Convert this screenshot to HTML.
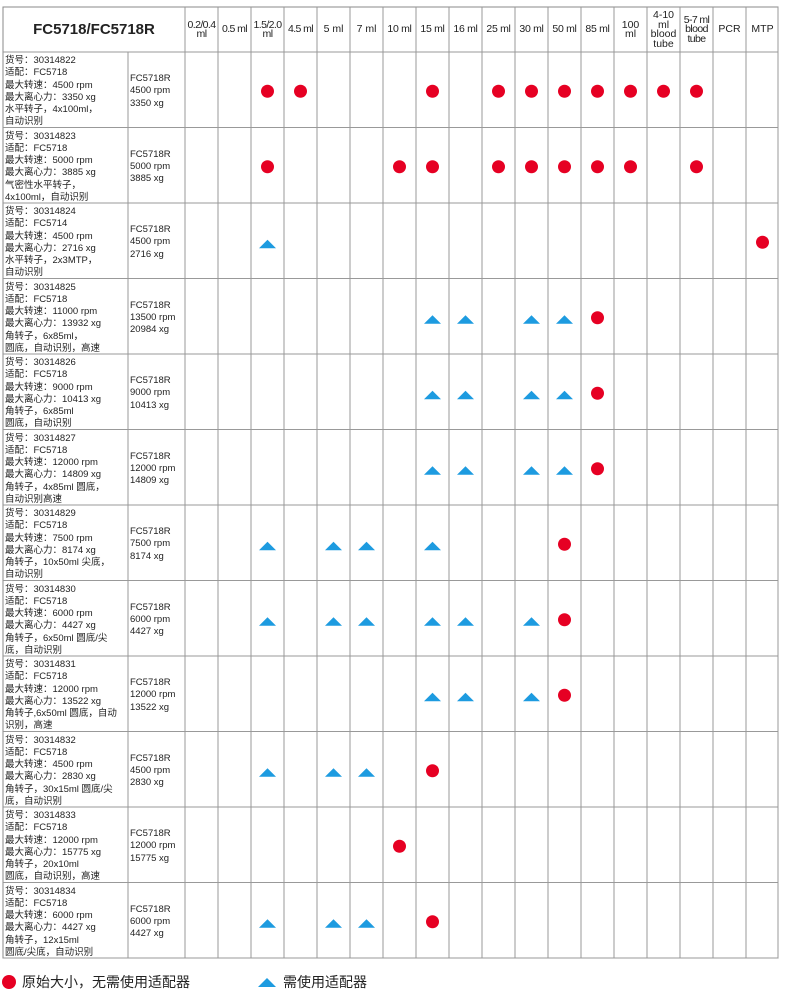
<!DOCTYPE html>
<html><head><meta charset="utf-8"><style>
body{margin:0;background:#fff;width:790px;height:1000px;position:relative;font-family:"Liberation Sans","Noto Sans CJK SC",sans-serif;color:#222;overflow:hidden}
.c{position:absolute;font-size:9.5px;line-height:12.3px;white-space:nowrap}
.h{position:absolute;font-size:10.5px;line-height:9.5px;text-align:center;width:33px;white-space:nowrap}
</style></head><body>
<svg width="790" height="1000" style="position:absolute;left:0;top:0" id="s"></svg>
<div style="position:absolute;left:3px;top:21px;width:182px;text-align:center;font-weight:bold;font-size:15px;">FC5718/FC5718R</div>
<div id="d"></div>
<div style="position:absolute;left:2px;top:975px;width:14px;height:14px;border-radius:50%;background:#e60023"></div>
<div style="position:absolute;left:22px;top:972px;font-size:14px;">原始大小，无需使用适配器</div>
<svg style="position:absolute;left:258px;top:977px" width="18" height="10"><polygon points="0,10 9,1 18,10" fill="#1d9be0"/></svg>
<div style="position:absolute;left:283px;top:972px;font-size:14px;">需使用适配器</div>
<script>
var s=document.getElementById('s'),d=document.getElementById('d'),h='';
var hb=52,rh=75.5;
var cols=[];for(var i=0;i<=18;i++)cols.push(185+i*33);cols[18]=778;
h+='<rect x="3" y="7" width="775" height="951" fill="none" stroke="#888" stroke-width="1"/>';
h+='<line x1="128" y1="52" x2="128" y2="958" stroke="#999"/>';
cols.forEach(function(x){h+='<line x1="'+x+'" y1="7" x2="'+x+'" y2="958" stroke="#999"/>'});
for(var r=0;r<=12;r++){var y=hb+r*rh;h+='<line x1="3" y1="'+y+'" x2="778" y2="'+y+'" stroke="#999"/>'}
var heads=[["0.2/0.4","ml"],["0.5 ml"],["1.5/2.0","ml"],["4.5 ml"],["5 ml"],["7 ml"],["10 ml"],["15 ml"],["16 ml"],["25 ml"],["30 ml"],["50 ml"],["85 ml"],["100","ml"],["4-10","ml","blood","tube"],["5-7 ml","blood","tube"],["PCR"],["MTP"]];
var dh='';
heads.forEach(function(a,i){var n=a.length;var t=30-n*4.75;var ls=(a[0].length>=6?'letter-spacing:-0.6px;':(a[0].length>=5?'letter-spacing:-0.3px;':''));dh+='<div class="h" style="left:'+cols[i]+'px;top:'+t+'px;'+ls+'">'+a.join('<br>')+'</div>'});
var rows=[
[["货号：30314822","适配：FC5718","最大转速：4500 rpm","最大离心力：3350 xg","水平转子，4x100ml，","自动识别"],["FC5718R","4500 rpm","3350 xg"],[2,3,7,9,10,11,12,13,14,15],[]],
[["货号：30314823","适配：FC5718","最大转速：5000 rpm","最大离心力：3885 xg","气密性水平转子，","4x100ml，自动识别"],["FC5718R","5000 rpm","3885 xg"],[2,6,7,9,10,11,12,13,15],[]],
[["货号：30314824","适配：FC5714","最大转速：4500 rpm","最大离心力：2716 xg","水平转子，2x3MTP，","自动识别"],["FC5718R","4500 rpm","2716 xg"],[17],[2]],
[["货号：30314825","适配：FC5718","最大转速：11000 rpm","最大离心力：13932 xg","角转子，6x85ml，","圆底，自动识别，高速"],["FC5718R","13500 rpm","20984 xg"],[12],[7,8,10,11]],
[["货号：30314826","适配：FC5718","最大转速：9000 rpm","最大离心力：10413 xg","角转子，6x85ml","圆底，自动识别"],["FC5718R","9000 rpm","10413 xg"],[12],[7,8,10,11]],
[["货号：30314827","适配：FC5718","最大转速：12000 rpm","最大离心力：14809 xg","角转子，4x85ml 圆底，","自动识别高速"],["FC5718R","12000 rpm","14809 xg"],[12],[7,8,10,11]],
[["货号：30314829","适配：FC5718","最大转速：7500 rpm","最大离心力：8174 xg","角转子，10x50ml 尖底，","自动识别"],["FC5718R","7500 rpm","8174 xg"],[11],[2,4,5,7]],
[["货号：30314830","适配：FC5718","最大转速：6000 rpm","最大离心力：4427 xg","角转子，6x50ml 圆底/尖","底，自动识别"],["FC5718R","6000 rpm","4427 xg"],[11],[2,4,5,7,8,10]],
[["货号：30314831","适配：FC5718","最大转速：12000 rpm","最大离心力：13522 xg","角转子,6x50ml 圆底，自动","识别，高速"],["FC5718R","12000 rpm","13522 xg"],[11],[7,8,10]],
[["货号：30314832","适配：FC5718","最大转速：4500 rpm","最大离心力：2830 xg","角转子，30x15ml 圆底/尖","底，自动识别"],["FC5718R","4500 rpm","2830 xg"],[7],[2,4,5]],
[["货号：30314833","适配：FC5718","最大转速：12000 rpm","最大离心力：15775 xg","角转子，20x10ml","圆底，自动识别，高速"],["FC5718R","12000 rpm","15775 xg"],[6],[]],
[["货号：30314834","适配：FC5718","最大转速：6000 rpm","最大离心力：4427 xg","角转子，12x15ml","圆底/尖底，自动识别"],["FC5718R","6000 rpm","4427 xg"],[7],[2,4,5]]];
rows.forEach(function(r,i){var y0=hb+i*rh,cy=y0+rh/2;
dh+='<div class="c" style="left:5px;top:'+(y0+3)+'px">'+r[0].join('<br>')+'</div>';
dh+='<div class="c" style="left:130px;top:'+(y0+21)+'px">'+r[1].join('<br>')+'</div>';
r[2].forEach(function(c){h+='<circle cx="'+(cols[c]+16.5)+'" cy="'+(cy+1.5)+'" r="6.5" fill="#e60023"/>'});
r[3].forEach(function(c){var x=cols[c]+16.5,y=cy+7.5;h+='<polygon points="'+(x-8.5)+','+y+' '+x+','+(y-8.5)+' '+(x+8.5)+','+y+'" fill="#1d9be0"/>'});
});
s.innerHTML=h;d.innerHTML=dh;
</script>
</body></html>
